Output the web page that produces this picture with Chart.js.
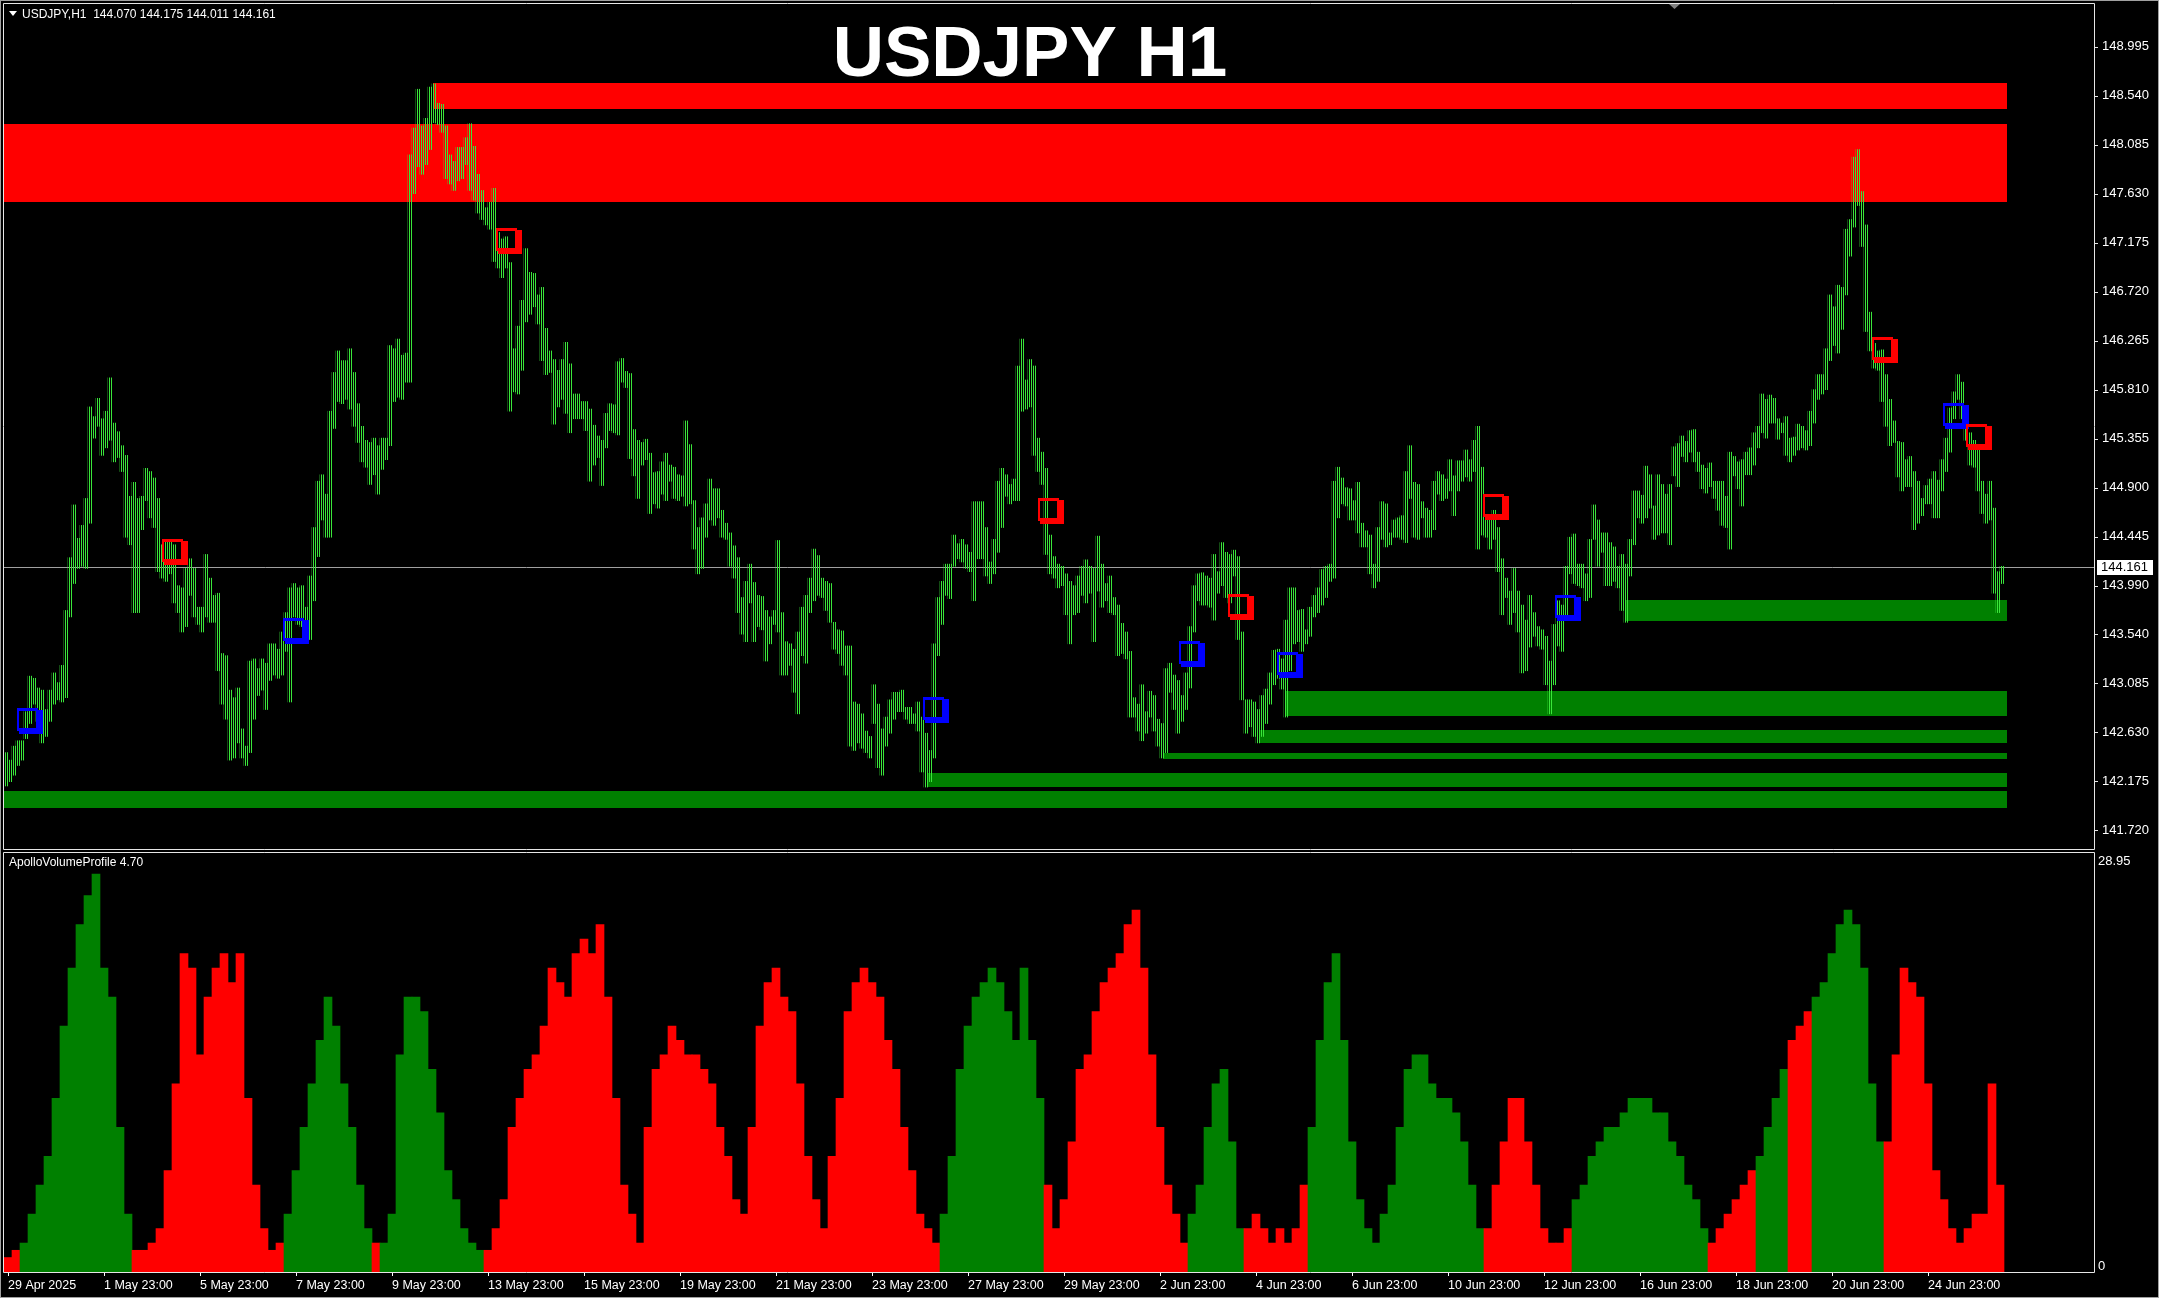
<!DOCTYPE html>
<html><head><meta charset="utf-8">
<script src="https://cdn.jsdelivr.net/npm/chart.js@4.4.1/dist/chart.umd.min.js"></script>
<style>
html,body{margin:0;padding:0;background:#000;overflow:hidden;}
#wrap{position:relative;width:2159px;height:1298px;background:#000;}
#main{position:absolute;left:0;top:0;width:2159px;height:851px;}
#vol{position:absolute;left:0;top:851px;width:2159px;height:447px;}
#border{position:absolute;left:0;top:0;width:2157px;height:1296px;border:1px solid #a0a0a0;pointer-events:none;}
</style></head><body>
<div id="wrap">
<canvas id="main" width="2159" height="851"></canvas>
<canvas id="vol" width="2159" height="447"></canvas>
<div id="border"></div>
</div>
<script>
// ---------------- data ----------------
const symbol = 'USDJPY';
const timeframe = 'H1';
const ohlcLast = [144.070, 144.175, 144.011, 144.161];
const lastPrice = 144.161;
const indicatorName = 'ApolloVolumeProfile 4.70';

const xTickLabels = ['29 Apr 2025','1 May 23:00','5 May 23:00','7 May 23:00','9 May 23:00','13 May 23:00','15 May 23:00','19 May 23:00','21 May 23:00','23 May 23:00','27 May 23:00','29 May 23:00','2 Jun 23:00','4 Jun 23:00','6 Jun 23:00','10 Jun 23:00','12 Jun 23:00','16 Jun 23:00','18 Jun 23:00','20 Jun 23:00','24 Jun 23:00'];
const priceTicks = [148.995,148.540,148.085,147.630,147.175,146.720,146.265,145.810,145.355,144.900,144.445,143.990,143.540,143.085,142.630,142.175,141.720];
const volTickValues = [28.95, 0];

// price: pairs of H1 bars (2-hour groups), high / low
const barHigh = [
142.44,142.37,142.50,142.55,142.55,142.82,143.15,143.13,143.04,143.02,
142.84,143.02,143.18,143.09,143.25,143.76,144.25,144.74,144.43,144.55,
144.80,145.65,145.56,145.73,145.54,145.61,145.92,145.50,145.42,145.29,
145.20,144.82,144.95,144.80,144.82,145.08,145.05,144.99,144.80,144.37,
144.42,144.42,144.37,143.99,143.97,144.15,144.24,144.15,143.79,143.79,
144.28,144.06,143.90,143.92,143.36,143.34,143.02,142.95,143.04,142.66,
142.50,143.29,143.31,143.22,143.31,143.27,143.45,143.45,143.40,143.56,
143.74,143.97,144.01,143.97,143.99,143.79,144.08,144.53,144.96,145.02,
144.84,145.61,145.97,146.17,146.08,146.08,146.19,145.97,145.68,145.47,
145.34,145.32,145.36,145.29,145.36,145.36,146.22,146.19,146.28,146.13,
146.15,147.99,148.24,148.60,148.26,148.33,148.62,148.65,148.47,148.46,
148.26,147.99,147.93,148.06,148.06,148.15,148.28,148.07,147.81,147.66,
147.50,147.55,147.68,147.27,147.21,147.23,146.99,146.19,146.40,146.64,
147.12,146.90,146.89,146.69,146.76,146.38,146.17,146.09,145.99,146.09,
146.25,146.05,145.77,145.77,145.70,145.70,145.63,145.48,145.38,145.34,
145.59,145.68,145.67,146.07,146.10,145.98,145.96,145.44,145.34,145.32,
145.35,145.22,145.04,145.05,145.14,145.22,145.11,145.09,145.02,145.01,
145.52,145.30,144.78,144.53,144.62,144.75,144.98,144.89,144.89,144.69,
144.57,144.48,144.36,144.25,143.88,144.03,144.19,144.02,143.90,143.89,
143.76,143.70,143.76,144.41,143.74,143.47,143.45,143.40,143.56,143.79,
143.90,144.06,144.33,144.27,144.06,144.03,144.01,143.65,143.58,143.57,
143.43,143.43,142.91,142.89,142.80,142.64,142.59,143.07,142.89,142.66,
142.77,142.93,143.00,143.00,143.02,142.86,142.86,142.80,142.91,142.77,
142.62,142.46,143.45,143.88,144.03,144.19,144.19,144.46,144.38,144.42,
144.37,144.30,144.77,144.77,144.77,144.53,144.21,144.42,144.96,145.08,
145.02,144.93,144.98,146.03,146.28,145.90,146.09,146.03,145.36,145.23,
145.08,144.46,144.26,144.19,144.17,144.10,144.03,143.99,144.08,144.17,
144.23,144.17,144.15,144.45,144.19,144.01,144.08,143.88,143.81,143.64,
143.56,143.38,142.95,142.89,143.07,142.82,143.01,142.97,142.75,142.71,
143.22,143.27,143.16,143.11,142.97,143.18,143.61,143.99,144.10,144.11,
144.08,144.06,144.28,144.12,144.39,144.30,144.28,144.32,144.26,143.56,
142.93,142.93,142.91,142.84,142.97,143.03,143.18,143.39,143.40,143.31,
143.67,143.97,143.97,143.76,143.77,143.58,143.79,143.90,143.97,144.14,
144.17,144.19,144.96,145.09,144.99,144.90,144.89,144.78,144.95,144.57,
144.50,144.46,144.19,144.53,144.77,144.75,144.48,144.60,144.62,144.64,
145.05,145.29,144.95,144.93,144.77,144.71,144.69,144.96,145.05,145.02,
144.98,145.16,145.01,145.15,145.15,145.25,145.16,145.34,145.47,145.09,
144.62,144.60,144.69,144.53,144.24,144.06,143.94,144.15,143.94,143.81,
143.67,143.90,143.74,143.61,143.58,143.52,143.29,143.63,143.85,143.81,
144.17,144.44,144.47,144.19,144.19,144.10,144.42,144.74,144.60,144.48,
144.48,144.39,144.35,144.17,144.28,144.19,144.42,144.87,144.87,144.83,
145.10,145.02,144.73,145.02,144.93,144.84,144.93,145.28,145.31,145.38,
145.33,145.43,145.44,145.23,145.11,145.08,145.13,144.96,144.96,144.96,
144.82,145.23,145.19,145.14,145.16,145.23,145.27,145.41,145.47,145.77,
145.72,145.76,145.73,145.54,145.50,145.56,145.36,145.37,145.49,145.47,
145.43,145.61,145.81,145.95,145.95,146.19,146.69,146.58,146.78,146.76,
147.30,147.39,147.97,148.04,147.65,147.34,146.53,146.24,146.17,146.18,
145.95,145.72,145.52,145.33,145.32,145.16,145.19,145.05,144.96,144.80,
144.92,144.98,145.05,144.97,145.16,145.36,145.64,145.79,145.95,145.88,
145.63,145.41,145.34,145.27,144.96,144.84,144.96,144.71,144.12,144.17];
const barLow = [
142.13,142.17,142.23,142.32,142.37,142.57,142.71,142.89,142.73,142.53,
142.59,142.73,142.89,142.93,142.91,142.95,143.70,144.01,144.15,144.17,
144.15,144.57,145.36,145.47,145.20,145.27,145.34,145.14,145.18,145.05,
144.44,144.37,143.74,143.74,144.51,144.78,144.62,144.53,144.12,144.06,
144.03,144.10,143.83,143.74,143.56,143.61,143.90,143.70,143.63,143.56,
143.70,143.65,143.65,143.20,142.89,142.75,142.37,142.39,142.53,142.39,
142.32,142.44,142.75,142.97,143.02,142.84,143.11,143.16,143.13,143.16,
143.38,142.91,143.70,143.63,143.61,143.47,143.49,143.85,144.26,144.60,
144.44,144.44,145.45,145.70,145.68,145.72,145.63,145.47,145.32,145.14,
145.09,144.93,145.02,144.84,145.07,145.16,145.29,145.70,145.74,145.72,
145.88,145.88,147.63,147.88,147.81,147.90,148.04,148.29,148.27,148.20,
147.77,147.72,147.66,147.75,147.77,147.90,147.66,147.57,147.45,147.39,
147.34,147.30,147.00,146.94,146.85,146.94,145.61,145.79,145.77,145.99,
146.44,146.51,146.58,146.42,146.08,145.95,145.97,145.49,145.65,145.72,
145.59,145.41,145.54,145.54,145.54,145.43,144.96,145.11,145.18,144.92,
145.27,145.43,145.41,145.39,145.88,145.83,145.17,145.01,144.80,145.11,
145.16,144.66,144.75,144.71,144.84,144.78,144.96,144.80,144.78,144.82,
144.73,144.75,144.33,144.10,144.15,144.44,144.60,144.55,144.62,144.44,
144.42,144.17,144.06,143.74,143.54,143.47,143.83,143.47,143.61,143.58,
143.29,143.45,143.63,143.56,143.16,143.16,143.25,143.00,142.80,143.34,
143.27,143.74,143.85,143.90,143.88,143.76,143.65,143.40,143.36,143.25,
143.16,142.50,142.46,142.53,142.48,142.44,142.39,142.71,142.30,142.23,
142.50,142.62,142.75,142.82,142.82,142.75,142.71,142.71,142.64,142.26,
142.12,142.17,142.39,143.34,143.63,143.90,143.87,144.17,144.24,144.21,
144.15,144.12,143.85,144.24,144.24,144.08,144.01,144.10,144.30,144.53,
144.82,144.75,144.78,144.78,145.61,145.63,145.65,145.20,145.05,144.93,
144.28,144.10,144.06,143.97,143.99,143.72,143.45,143.72,143.74,143.90,
143.83,143.92,143.47,143.94,143.79,143.85,143.74,143.72,143.34,143.36,
143.31,142.77,142.77,142.64,142.55,142.62,142.77,142.64,142.50,142.39,
142.44,143.00,142.84,142.62,142.73,142.84,143.04,143.56,143.85,143.81,
143.81,143.79,143.67,143.92,143.99,143.88,143.83,144.08,143.49,142.93,
142.62,142.68,142.59,142.53,142.59,142.71,142.89,143.07,143.13,143.03,
142.77,143.20,143.45,143.47,143.38,143.45,143.52,143.70,143.74,143.81,
143.88,144.03,144.06,144.62,144.75,144.73,144.60,144.60,144.48,144.35,
144.35,144.10,143.97,144.03,144.42,144.35,144.37,144.44,144.44,144.42,
144.39,144.80,144.44,144.42,144.62,144.44,144.44,144.51,144.84,144.78,
144.80,144.87,144.64,144.87,144.96,145.00,144.96,145.05,144.33,144.46,
144.44,144.33,144.42,144.12,143.72,143.88,143.63,143.74,143.56,143.18,
143.20,143.42,143.52,143.43,143.40,143.07,142.80,143.07,143.43,143.38,
143.67,144.10,144.01,143.99,143.97,143.85,143.88,144.42,144.17,144.30,
143.99,143.99,144.03,143.97,143.76,143.65,144.08,144.37,144.62,144.57,
144.62,144.71,144.42,144.46,144.48,144.48,144.37,145.01,144.91,145.19,
145.14,145.23,145.14,145.05,144.89,144.85,144.91,144.80,144.69,144.55,
144.53,144.33,145.01,144.89,144.73,145.02,145.02,145.11,145.27,145.41,
145.36,145.50,145.50,145.35,145.41,145.20,145.14,145.20,145.25,145.27,
145.25,145.29,145.50,145.72,145.77,145.81,146.08,146.22,146.15,146.37,
146.69,147.05,147.32,147.52,147.14,146.35,146.17,146.01,145.99,145.70,
145.47,145.29,145.32,145.00,144.87,144.91,144.91,144.51,144.57,144.64,
144.75,144.75,144.62,144.62,144.87,145.05,145.23,145.54,145.72,145.54,
145.34,145.11,145.09,144.87,144.66,144.57,144.60,143.92,143.74,144.01];

// volume profile histogram (4-hour groups) and side (B = buy/green, S = sell/red)
const volValues = [1,1.5,2,4,6,8,12,17,21,24,
26,27.5,21,19,10,4,1.5,1.5,2,3,
7,13,22,21,15,19,21,22,20,22,
12,6,3,1.5,2,4,7,10,13,16,
19,17,13,10,6,3,2,2,4,15,
19,19,18,14,11,7,5,3,2,1.5,
1.5,3,5,10,12,14,15,17,21,20,
19,22,23,22,24,19,12,6,4,2,
10,14,15,17,16,15,15,14,13,10,
8,5,4,10,17,20,21,19,18,13,
8,5,3,8,12,18,20,21,20,19,
16,14,10,7,4,3,2,4,8,14,
17,19,20,21,20,18,16,21,16,12,
6,3,5,9,14,15,18,20,21,22,
24,25,21,15,10,6,4,2,4,6,
10,13,14,9,3,3,4,3,2,3,
2,3,6,10,16,20,22,16,9,5,
3,2,4,6,10,14,15,15,13,12,
12,11,9,6,3,3,6,9,12,12,
9,6,3,2,2,3,5,6,8,9,
10,10,11,12,12,12,11,11,9,8,
6,5,3,2,3,4,5,6,7,8,
10,12,14,16,17,18,19,20,22,24,
25,24,21,13,9,9,15,21,20,19,
13,7,5,3,2,3,4,4,13,6];
const volSide = ('SSBBBBBBBB'+'BBBBBBSSSS'+'SSSSSSSSSS'+'SSSSSBBBBB'+'BBBBBBSBBB'+
 'BBBBBBBBBB'+'SSSSSSSSSS'+'SSSSSSSSSS'+'SSSSSSSSSS'+'SSSSSSSSSS'+
 'SSSSSSSSSS'+'SSSSSSSBBB'+'BBBBBBBBBB'+'SSSSSSSSSS'+'SSSSSSSSBB'+
 'BBBBBSSSSS'+'SSSBBBBBBB'+'BBBBBBBBBB'+'BBBBBSSSSS'+'SSSSSSBBBB'+
 'BBBBBBBBBB'+'BBBSSSSSSB'+'BBBSSSBBBB'+'BBBBBSSSSS'+'SSSSSSSSSS').split('');

// supply / demand zones (start/end in 2-hour slot units, prices)
const zoneStart  = [106.8, -1, 404.9, 320.0, 313.3, 289.3, 230.6, -1];
const zoneEnd    = [500.25, 500.25, 500.25, 500.25, 500.25, 500.25, 500.25, 500.25];
const zoneTop    = [148.658, 148.277, 143.857, 143.012, 142.650, 142.436, 142.251, 142.084];
const zoneBottom = [148.416, 147.556, 143.665, 142.783, 142.532, 142.384, 142.124, 141.929];
const zoneType   = ['supply','supply','demand','demand','demand','demand','demand','demand'];

// signal boxes (2-hour slot units, price)
const markerIdx   = [6.1, 42.2, 72.6, 125.7, 232.6, 261.2, 296.6, 308.7, 321.1, 372.6, 390.6, 469.7, 487.6, 493.2];
const markerPrice = [142.73, 144.30, 143.57, 147.19, 142.84, 144.68, 143.36, 143.79, 143.25, 144.72, 143.78, 146.18, 145.57, 145.37];
const markerType  = ['buy','sell','buy','sell','buy','sell','buy','sell','buy','sell','buy','sell','buy','sell'];

// ---------------- drawing ----------------
Chart.defaults.font.family = "'Liberation Sans', Arial, sans-serif";
const MAIN_SLOTS = 522;
const VOL_SLOTS = 261;
const mainLabels = Array.from({length: MAIN_SLOTS}, (_, i) => String(i));
const volLabels = Array.from({length: VOL_SLOTS}, (_, i) => String(i));
const FRAME = '#e6e6e6';

function slotPixel(scale, v) {
  const p0 = scale.getPixelForValue(0), p1 = scale.getPixelForValue(1);
  return p0 + (p1 - p0) * v;
}

const mainCanvas = document.getElementById('main');
const mctx = mainCanvas.getContext('2d');
const pc = document.createElement('canvas'); pc.width = 2; pc.height = 1;
const pcx = pc.getContext('2d'); pcx.fillStyle = '#3ae63a'; pcx.fillRect(1, 0, 1, 1);
const stripe = mctx.createPattern(pc, 'repeat');

const mainPlugin = {
  id: 'mt4main',
  beforeDatasetsDraw(chart) {
    const {ctx, chartArea: a, scales: {x, y}} = chart;
    ctx.save();
    ctx.beginPath(); ctx.rect(a.left, a.top, a.width, a.height); ctx.clip();
    zoneStart.forEach((s, k) => {
      const x1 = Math.round(Math.max(a.left, slotPixel(x, s)));
      const x2 = Math.round(slotPixel(x, zoneEnd[k]));
      const y1 = Math.round(y.getPixelForValue(zoneTop[k]));
      const y2 = Math.round(y.getPixelForValue(zoneBottom[k]));
      ctx.fillStyle = zoneType[k] === 'supply' ? '#ff0000' : '#008000';
      ctx.fillRect(x1, y1, x2 - x1, y2 - y1);
    });
    ctx.restore();
    ctx.save();
    const yp = Math.round(y.getPixelForValue(lastPrice)) + 0.5;
    ctx.strokeStyle = '#a0a0a0'; ctx.lineWidth = 1;
    ctx.beginPath(); ctx.moveTo(a.left, yp); ctx.lineTo(2094, yp); ctx.stroke();
    ctx.restore();
  },
  afterDatasetsDraw(chart) {
    const {ctx, scales: {x, y}} = chart;
    ctx.save();
    markerIdx.forEach((v, k) => {
      const cx = slotPixel(x, v), cy = y.getPixelForValue(markerPrice[k]);
      const x0 = Math.round(cx - 13), y0 = Math.round(cy - 13);
      ctx.fillStyle = markerType[k] === 'sell' ? '#ff0000' : '#0000ff';
      ctx.fillRect(x0, y0, 21, 3);
      ctx.fillRect(x0, y0, 2, 23);
      ctx.fillRect(x0, y0 + 20, 21, 3);
      ctx.fillRect(x0 + 19, y0, 2, 23);
      ctx.fillRect(x0 + 21, y0 + 2, 5, 24);
      ctx.fillRect(x0 + 2, y0 + 23, 24, 3);
    });
    ctx.restore();
  },
  afterDraw(chart) {
    const {ctx, scales: {y}} = chart;
    ctx.save();
    ctx.strokeStyle = FRAME; ctx.lineWidth = 1;
    ctx.beginPath();
    ctx.moveTo(3.5, 3.5); ctx.lineTo(2094.5, 3.5); ctx.lineTo(2094.5, 849.5); ctx.lineTo(3.5, 849.5); ctx.closePath();
    ctx.stroke();
    ctx.beginPath();
    priceTicks.forEach(v => {
      const yy = Math.round(y.getPixelForValue(v)) + 0.5;
      ctx.moveTo(2095, yy); ctx.lineTo(2098, yy);
    });
    ctx.stroke();
    ctx.fillStyle = '#808080';
    ctx.beginPath(); ctx.moveTo(1669, 4); ctx.lineTo(1680, 4); ctx.lineTo(1674.5, 9); ctx.closePath(); ctx.fill();
    ctx.fillStyle = '#ffffff';
    ctx.beginPath(); ctx.moveTo(9, 11); ctx.lineTo(17, 11); ctx.lineTo(13, 16); ctx.closePath(); ctx.fill();
    ctx.font = "12px 'Liberation Sans', Arial, sans-serif";
    ctx.textBaseline = 'middle'; ctx.textAlign = 'left';
    ctx.fillText(symbol + ',' + timeframe + '  ' + ohlcLast.map(v => v.toFixed(3)).join(' '), 22, 14.5);
    ctx.font = "bold 71px 'Liberation Sans', Arial, sans-serif";
    ctx.textAlign = 'center'; ctx.textBaseline = 'alphabetic';
    ctx.fillText(symbol + ' ' + timeframe, 1030, 76);
    const yc = Math.round(y.getPixelForValue(lastPrice));
    ctx.fillStyle = '#ffffff';
    ctx.fillRect(2097, yc - 7, 56, 15);
    ctx.fillStyle = '#000000';
    ctx.font = "13px 'Liberation Sans', Arial, sans-serif";
    ctx.textAlign = 'left'; ctx.textBaseline = 'middle';
    ctx.fillText(lastPrice.toFixed(3), 2101, yc + 0.5);
    ctx.restore();
  }
};

new Chart(mainCanvas, {
  type: 'bar',
  data: {
    labels: mainLabels,
    datasets: [{
      label: symbol + ' ' + timeframe,
      data: barHigh.map((h, i) => [barLow[i], h]),
      backgroundColor: stripe,
      borderWidth: 0,
      barThickness: 4
    }]
  },
  options: {
    responsive: false, animation: false, devicePixelRatio: 1,
    layout: {padding: {left: 4, top: 4, right: 0, bottom: 2}},
    plugins: {legend: {display: false}, tooltip: {enabled: false}},
    scales: {
      x: {display: false, offset: true, grid: {display: false}},
      y: {
        position: 'right', min: 141.5448, max: 149.3915,
        grid: {display: false, drawTicks: false}, border: {display: false},
        afterFit(s) { s.width = 67; s.paddingTop = 0; s.paddingBottom = 0; },
        afterBuildTicks(s) { s.ticks = priceTicks.map(v => ({value: v})); },
        ticks: {color: '#ffffff', padding: 10, autoSkip: false, font: {size: 13}, callback: v => Number(v).toFixed(3)}
      }
    }
  },
  plugins: [mainPlugin]
});

const volPlugin = {
  id: 'mt4vol',
  afterDraw(chart) {
    const {ctx} = chart;
    ctx.save();
    ctx.strokeStyle = FRAME; ctx.lineWidth = 1;
    ctx.beginPath();
    ctx.moveTo(3.5, 1.5); ctx.lineTo(2094.5, 1.5); ctx.lineTo(2094.5, 421.5); ctx.lineTo(3.5, 421.5); ctx.closePath();
    ctx.stroke();
    ctx.fillStyle = '#ffffff';
    ctx.font = "12px 'Liberation Sans', Arial, sans-serif";
    ctx.textAlign = 'left'; ctx.textBaseline = 'middle';
    ctx.fillText(indicatorName, 9, 12);
    ctx.font = "13px 'Liberation Sans', Arial, sans-serif";
    ctx.fillText(String(volTickValues[0]), 2098, 10);
    ctx.fillText(String(volTickValues[1]), 2098, 415);
    ctx.restore();
  }
};

new Chart(document.getElementById('vol'), {
  type: 'bar',
  data: {
    labels: volLabels,
    datasets: [{
      label: indicatorName,
      data: volValues,
      backgroundColor: volSide.map(s => s === 'B' ? '#008000' : '#ff0000'),
      borderWidth: 0,
      barThickness: 8
    }]
  },
  options: {
    responsive: false, animation: false, devicePixelRatio: 1,
    layout: {padding: {left: 4, top: 2, right: 67, bottom: 0}},
    plugins: {legend: {display: false}, tooltip: {enabled: false}},
    scales: {
      x: {
        offset: true,
        grid: {display: true, offset: false, drawOnChartArea: false, drawTicks: true, tickLength: 4,
               color: c => (c.index % 12 === 0 && c.index / 12 < xTickLabels.length) ? '#ffffff' : 'rgba(0,0,0,0)'},
        border: {display: false},
        afterFit(s) { s.height = 26; },
        ticks: {autoSkip: false, maxRotation: 0, minRotation: 0, align: 'start', padding: 2, color: '#ffffff',
                font: {size: 12.5},
                callback: (v, i) => (i % 12 === 0 && i / 12 < xTickLabels.length) ? xTickLabels[i / 12] : ''}
      },
      y: {display: false, min: 0, max: 28.95}
    }
  },
  plugins: [volPlugin]
});
</script>
</body></html>
